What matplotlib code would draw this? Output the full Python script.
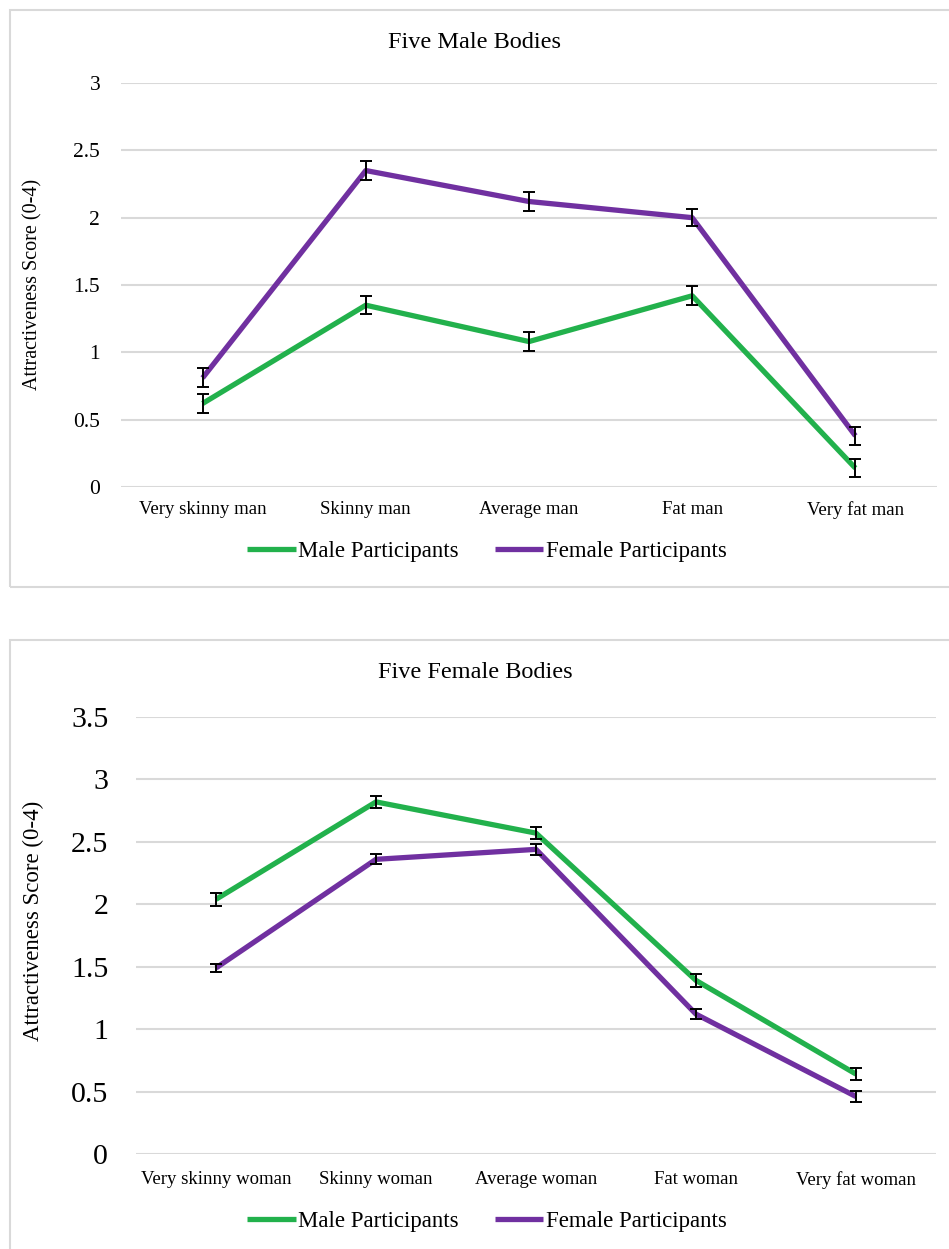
import numpy as np
import matplotlib.pyplot as plt
from matplotlib.patches import Rectangle

plt.rcParams['font.family'] = ['Liberation Serif', 'DejaVu Serif']

# data
male_bodies = ["Very skinny man", "Skinny man", "Average man", "Fat man", "Very fat man"]
male_b_men = [0.62, 1.35, 1.08, 1.42, 0.14]
male_b_men_err = [0.07, 0.065, 0.07, 0.07, 0.065]
male_b_women = [0.81, 2.35, 2.12, 2.00, 0.38]
male_b_women_err = [0.07, 0.07, 0.07, 0.065, 0.065]

female_bodies = ["Very skinny woman", "Skinny woman", "Average woman", "Fat woman", "Very fat woman"]
female_b_men = [2.04, 2.82, 2.57, 1.39, 0.64]
female_b_men_err = [0.05, 0.05, 0.05, 0.055, 0.05]
female_b_women = [1.49, 2.36, 2.44, 1.12, 0.46]
female_b_women_err = [0.035, 0.04, 0.045, 0.04, 0.045]

GREEN = "#22b14c"
PURPLE = "#7030a0"
GRID = "#d9d9d9"

W, H = 949, 1249
fig = plt.figure(figsize=(W / 100, H / 100), dpi=100)

def fx(px):
    return px / W

def fy(py):
    return 1 - py / H

# panel borders
fig.patches.append(Rectangle((fx(10), fy(587)), fx(960), fy(10) - fy(587),
                             transform=fig.transFigure, fill=False, ec=GRID, lw=1.5))
fig.patches.append(Rectangle((fx(10), fy(1260)), fx(960), fy(640) - fy(1260),
                             transform=fig.transFigure, fill=False, ec=GRID, lw=1.5))


def panel(rect, cats, men, men_err, women, women_err, ymax, title, title_y, ytick_fs,
          ytick_pad, ylab_fs, ylab_y, xt_pad, leg_y):
    ax = fig.add_axes(rect)
    x = np.arange(len(cats))
    ax.plot(x, men, color=GREEN, lw=3.8, solid_capstyle='butt', zorder=3, label="Male Participants")
    ax.plot(x, women, color=PURPLE, lw=3.8, solid_capstyle='butt', zorder=3, label="Female Participants")
    ax.errorbar(x, men, yerr=men_err, fmt='none', ecolor='black', elinewidth=1.4,
                capsize=4, capthick=1.4, zorder=4)
    ax.errorbar(x, women, yerr=women_err, fmt='none', ecolor='black', elinewidth=1.4,
                capsize=4, capthick=1.4, zorder=4)
    ax.set_xlim(-0.5, len(cats) - 0.5)
    ax.set_ylim(0, ymax)
    ticks = np.arange(0, ymax + 0.01, 0.5)
    ax.set_yticks(ticks)
    ax.set_yticklabels([f"{v:g}" for v in ticks])
    ax.set_xticks(x)
    ax.set_xticklabels(cats, fontsize=13.5)
    ax.tick_params(axis='y', labelsize=ytick_fs, length=0, pad=ytick_pad)
    ax.tick_params(axis='x', length=0, pad=xt_pad)
    ax.yaxis.grid(True, color=GRID, lw=1.5)
    ax.set_axisbelow(True)
    for s in ax.spines.values():
        s.set_visible(False)
    fig.text(fx(475), fy(title_y), title, ha='center', va='center', fontsize=17.5)
    fig.text(fx(33), fy(ylab_y), "Attractiveness Score (0-4)", rotation=90,
             ha='center', va='center', fontsize=ylab_fs)
    ax.legend(loc='center', bbox_to_anchor=(fx(487), fy(leg_y)),
              bbox_transform=fig.transFigure, ncol=2, frameon=False, fontsize=16.5,
              handlelength=2.1, handletextpad=0.1, columnspacing=1.6)
    return ax


panel([fx(121), fy(487), fx(937) - fx(121), fy(83) - fy(487)],
      male_bodies, male_b_men, male_b_men_err, male_b_women, male_b_women_err,
      3, "Five Male Bodies", 43, 15.5, 15, 14.5, 284, 10, 551)

panel([fx(136), fy(1154), fx(936) - fx(136), fy(717) - fy(1154)],
      female_bodies, female_b_men, female_b_men_err, female_b_women, female_b_women_err,
      3.5, "Five Female Bodies", 672, 21.5, 20, 16.5, 921, 12, 1221)

fig.savefig("out.png", dpi=100, facecolor='white')
